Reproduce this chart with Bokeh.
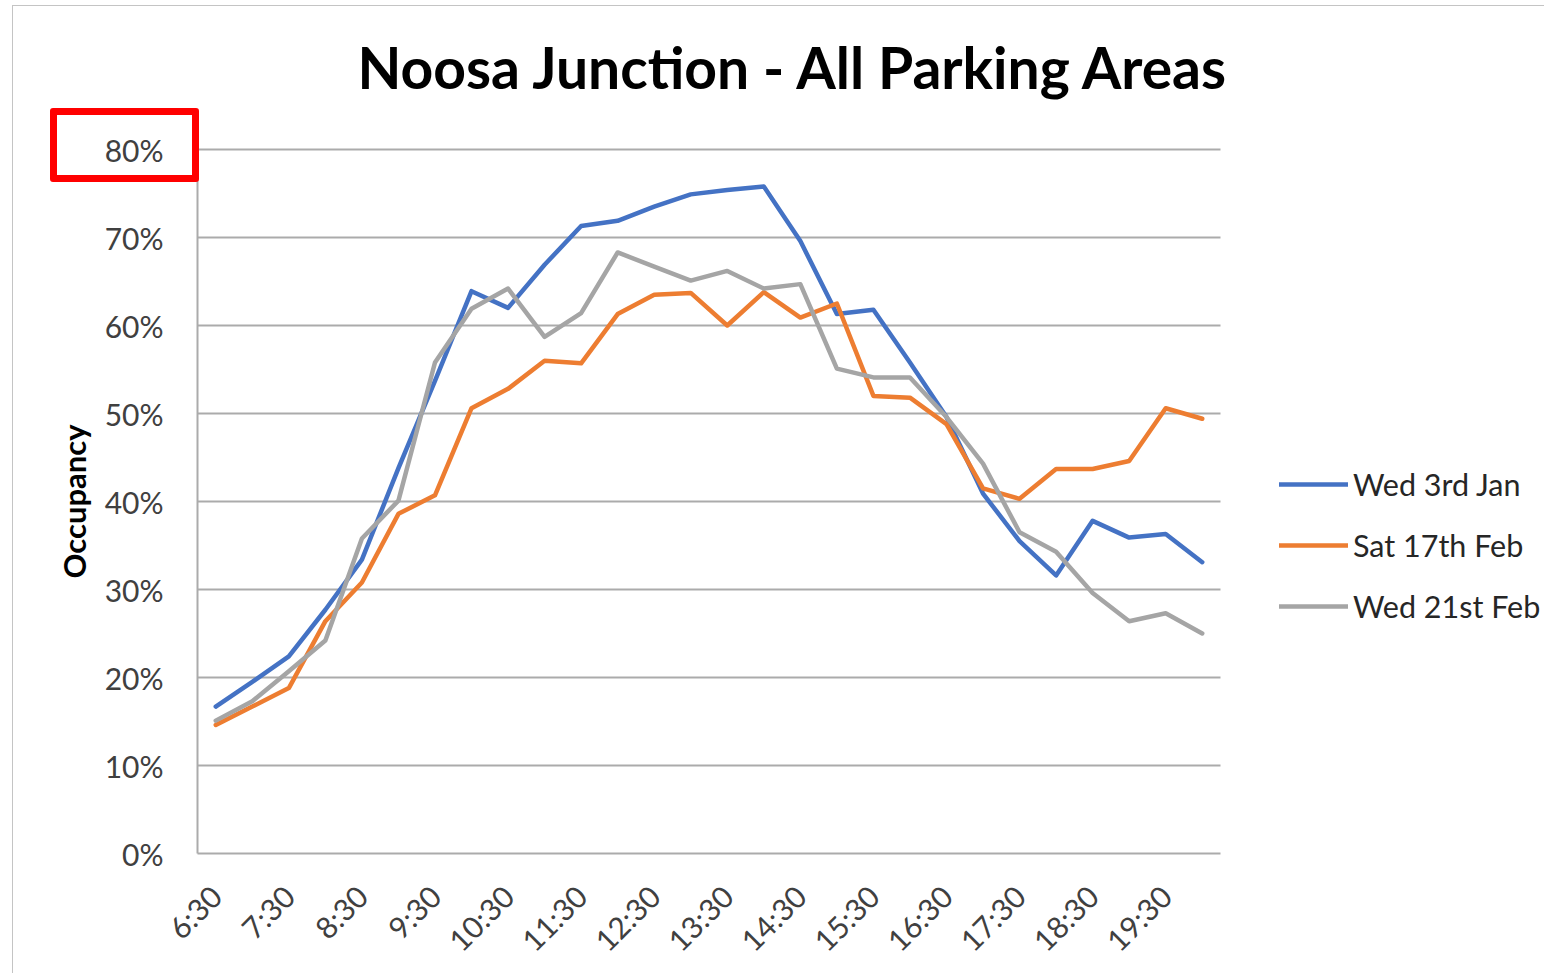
from bokeh.plotting import figure
from bokeh.models import (Range1d, FixedTicker, NumeralTickFormatter, Legend, LegendItem,
                          Label, Title, Grid)
from bokeh.embed import file_html
from bokeh.resources import INLINE
import math

# ---------------- data ----------------
times = ["6:30", "7:00", "7:30", "8:00", "8:30", "9:00", "9:30", "10:00", "10:30", "11:00",
         "11:30", "12:00", "12:30", "13:00", "13:30", "14:00", "14:30", "15:00", "15:30",
         "16:00", "16:30", "17:00", "17:30", "18:00", "18:30", "19:00", "19:30", "20:00"]

wed_3rd_jan = [0.167, 0.195, 0.224, 0.277, 0.334, 0.438, 0.537, 0.639, 0.620, 0.669,
               0.713, 0.719, 0.735, 0.749, 0.754, 0.758, 0.696, 0.613, 0.618, 0.558,
               0.496, 0.409, 0.355, 0.316, 0.378, 0.359, 0.363, 0.331]
sat_17th_feb = [0.146, 0.167, 0.188, 0.264, 0.308, 0.386, 0.407, 0.506, 0.528, 0.560,
                0.557, 0.613, 0.635, 0.637, 0.600, 0.638, 0.609, 0.625, 0.520, 0.518,
                0.488, 0.415, 0.403, 0.437, 0.437, 0.446, 0.506, 0.494]
wed_21st_feb = [0.151, 0.173, 0.207, 0.242, 0.358, 0.401, 0.558, 0.619, 0.642, 0.587,
                0.614, 0.683, 0.667, 0.651, 0.662, 0.642, 0.647, 0.551, 0.541, 0.541,
                0.496, 0.443, 0.365, 0.343, 0.296, 0.264, 0.273, 0.250]

series_names = ["Wed 3rd Jan", "Sat 17th Feb", "Wed 21st Feb"]
series_values = [wed_3rd_jan, sat_17th_feb, wed_21st_feb]
series_colors = ["#4472C4", "#ED7D31", "#A5A5A5"]

y_ticks = [0.0, 0.1, 0.2, 0.3, 0.4, 0.5, 0.6, 0.7, 0.8]
title_text = "Noosa Junction - All Parking Areas"
y_label = "Occupancy"

FONT = "Lato"

# ---------------- geometry (canvas pixels) ----------------
W = 1544
PL, PR, PT, PB = 197, 1220, 149, 853        # plotting area of the chart
n = len(times)
px_per_cat = (PR - PL) / n
px_per_unit = (PB - PT) / y_ticks[-1]
FW, FH = W - PL, PB                          # frame reaches canvas top and right edge
x_end = FW / px_per_cat
y_end = FH / px_per_unit

p = figure(width=W, height=976, frame_width=FW, frame_height=FH,
           output_backend="svg", toolbar_location=None, title=None,
           x_range=Range1d(0, x_end), y_range=Range1d(0, y_end),
           min_border_left=PL, min_border_right=0, min_border_top=0, min_border_bottom=0)
p.outline_line_color = None
p.background_fill_color = "white"
p.border_fill_color = "white"

xs = [i + 0.5 for i in range(n)]

# horizontal gridlines, limited to the category span
GRID_COLOR = "#ababab"
p.xgrid.grid_line_color = None
if "cross_bounds" in Grid.properties():
    p.ygrid.ticker = FixedTicker(ticks=y_ticks)
    p.ygrid.cross_bounds = (0, n)
    p.ygrid.grid_line_color = GRID_COLOR
    p.ygrid.grid_line_width = 2
else:
    p.ygrid.grid_line_color = None
    p.segment(x0=[0] * len(y_ticks), x1=[n] * len(y_ticks), y0=y_ticks, y1=y_ticks,
              line_color=GRID_COLOR, line_width=2)

renderers = []
for name, vals, col in zip(series_names, series_values, series_colors):
    r = p.line(xs, vals, line_color=col, line_width=4.5, line_join="round", line_cap="round")
    renderers.append((name, r))

# y axis
ya = p.yaxis[0]
ya.bounds = (0, y_ticks[-1])
ya.ticker = FixedTicker(ticks=y_ticks)
ya.formatter = NumeralTickFormatter(format="0%")
ya.axis_line_color = GRID_COLOR
ya.axis_line_width = 2
ya.major_tick_line_color = None
ya.minor_tick_line_color = None
ya.major_tick_out = 0
ya.major_label_standoff = 34
ya.major_label_text_font = FONT
ya.major_label_text_font_size = "30px"
ya.major_label_text_color = "#404040"

# y axis title (placed beside the axis, starting at the chart's 0-80% span)
p.add_layout(Title(text=y_label, align="left", offset=PB - 578, vertical_align="bottom",
                   standoff=18, text_font=FONT, text_font_style="bold",
                   text_font_size="31px", text_color="black"), "left")

# x axis
xa = p.xaxis[0]
xa.bounds = (0, n)
tick_pos = [xs[i] for i in range(0, n, 2)]
xa.ticker = FixedTicker(ticks=tick_pos)
xa.major_label_overrides = {xs[i]: times[i] for i in range(0, n, 2)}
xa.major_label_orientation = math.pi / 4
xa.axis_line_color = GRID_COLOR
xa.axis_line_width = 2
xa.major_tick_line_color = None
xa.minor_tick_line_color = None
xa.major_tick_out = 0
xa.major_label_standoff = 37
xa.major_label_text_font = FONT
xa.major_label_text_font_size = "30px"
xa.major_label_text_color = "#404040"

# chart title
p.add_layout(Label(x=794 - PL, y=PB - 66, x_units="screen", y_units="screen",
                   text=title_text, text_align="center", text_baseline="middle",
                   text_font=FONT, text_font_style="bold", text_font_size="57px",
                   text_color="black"))

# legend
legend = Legend(items=[LegendItem(label=nm, renderers=[r]) for nm, r in renderers],
                location=(1279 - PL, 228), orientation="vertical",
                glyph_width=69, glyph_height=38, label_height=38, spacing=23,
                label_standoff=5, padding=0, margin=0,
                border_line_color=None, background_fill_alpha=0,
                label_text_font=FONT, label_text_font_size="30.5px",
                label_text_color="#262626")
p.add_layout(legend)

# red highlight box around the 80% label and the chart's outer frame
p.stylesheets = ["""
:host { position: relative; }
:host::after {
  content: ""; position: absolute; left: 50px; top: 108px;
  width: 135px; height: 60px; border: 7px solid #ff0000; border-radius: 3px;
  pointer-events: none; z-index: 10;
}
:host::before {
  content: ""; position: absolute; left: 12px; top: 5px; right: 0px; bottom: 0px;
  border-left: 1px solid #c4c4c4; border-top: 1px solid #c4c4c4;
  pointer-events: none; z-index: 10;
}
"""]

open("out.html", "w").write(file_html(p, INLINE))
